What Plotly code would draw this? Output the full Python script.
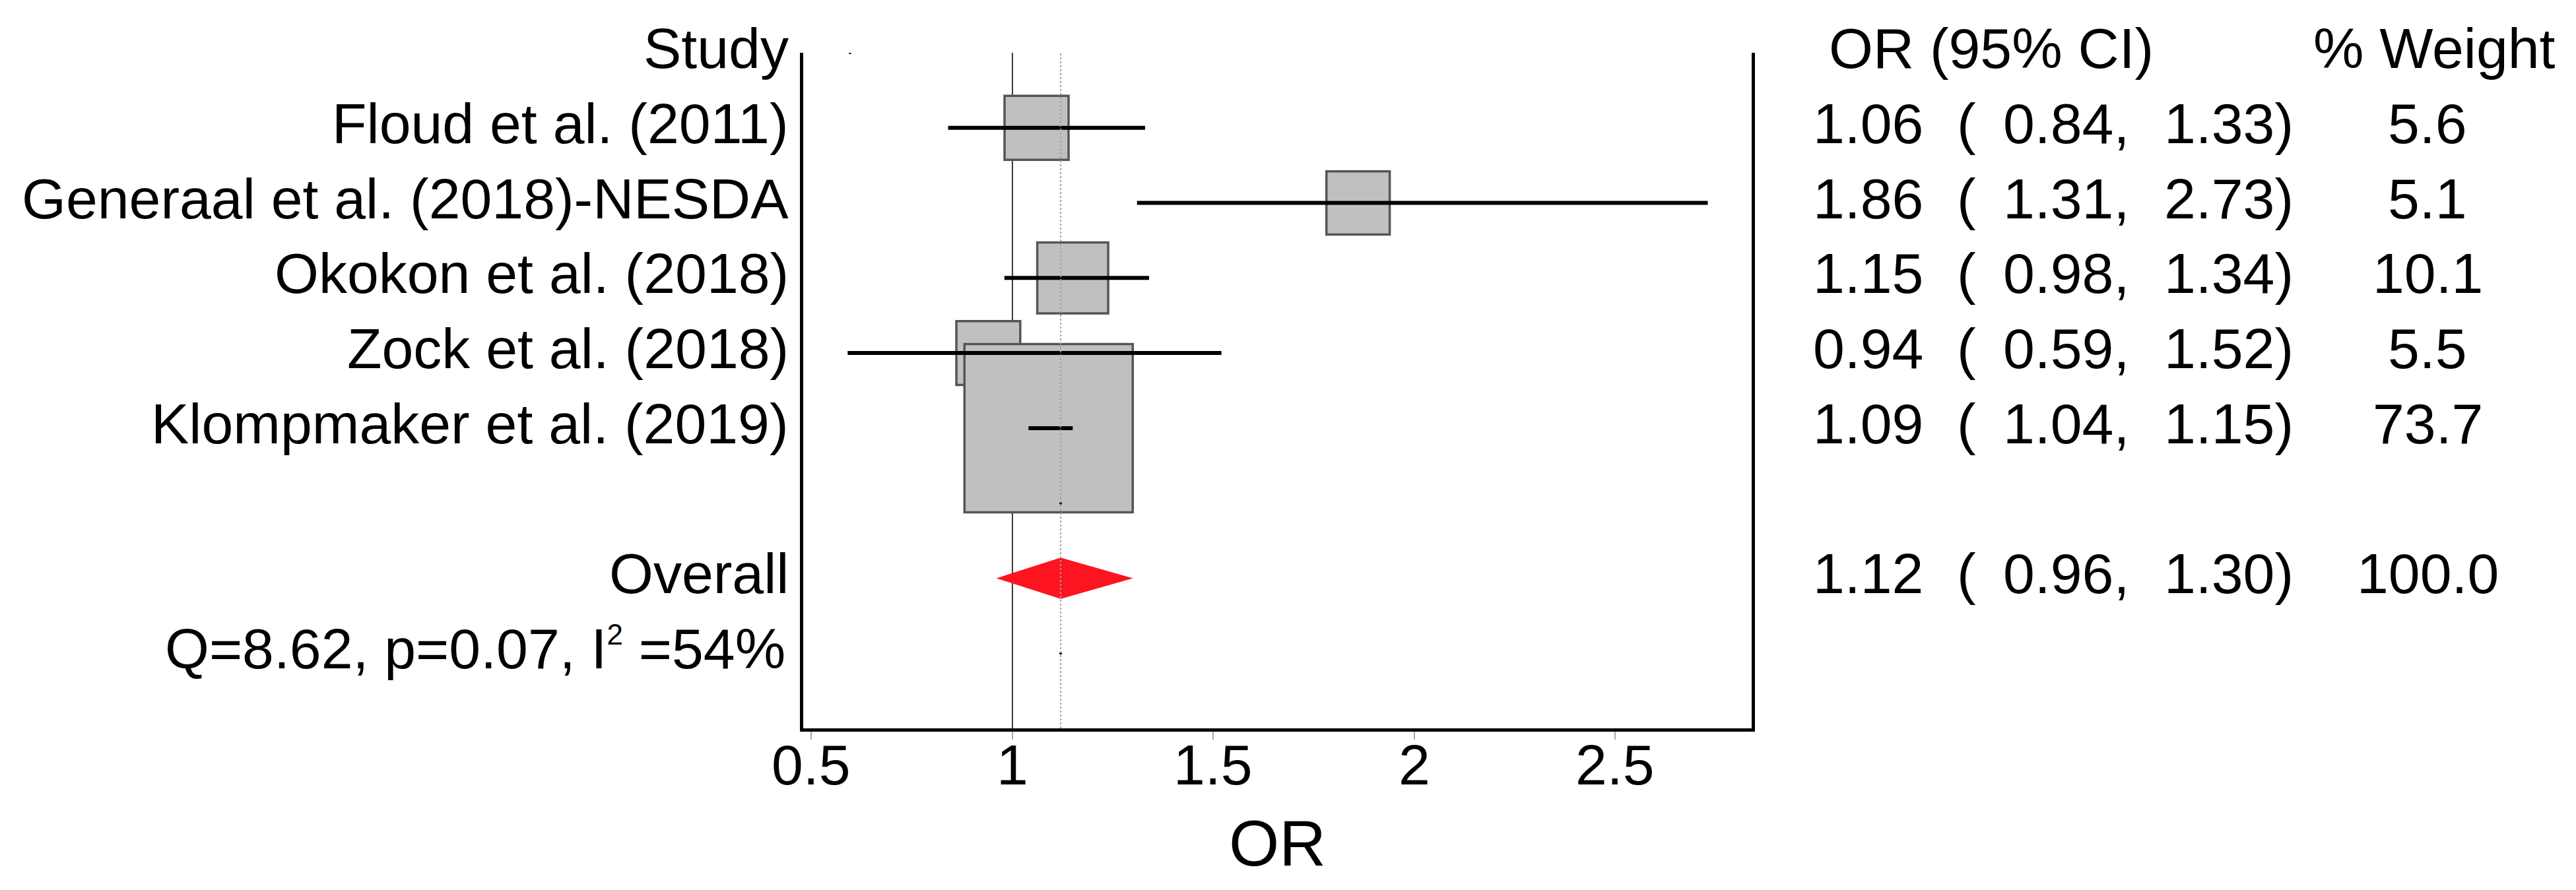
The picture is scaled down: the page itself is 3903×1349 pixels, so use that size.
import plotly.graph_objects as go

# Study-level results (odds ratios with 95% CI) and random-effects weights
STUDIES = [
    "Floud et al. (2011)",
    "Generaal et al. (2018)-NESDA",
    "Okokon et al. (2018)",
    "Zock et al. (2018)",
    "Klompmaker et al. (2019)",
]
OR_EST = [1.06, 1.86, 1.15, 0.94, 1.09]
CI_LOW = [0.84, 1.31, 0.98, 0.59, 1.04]
CI_HIGH = [1.33, 2.73, 1.34, 1.52, 1.15]
WEIGHTS = [5.6, 5.1, 10.1, 5.5, 73.7]

POOLED_LABEL = "Overall"
POOLED_OR = 1.12
POOLED_LOW = 0.96
POOLED_HIGH = 1.30
POOLED_WEIGHT = 100.0
HETEROGENEITY = "Q=8.62, p=0.07, I<sup><span style='font-size:44px'>2</span></sup> =54%"

X_TICKS = [0.5, 1, 1.5, 2, 2.5]
X_TICK_LABELS = ["0.5", "1", "1.5", "2", "2.5"]
X_TITLE = "OR"
NULL_OR = 1.0

# stray specks the original plotting program leaves behind (x, row)
STRAY_X = [0.596, 1.12, 1.12]
STRAY_ROW = [0, 6, 8]

FONT = "Arial, 'Liberation Sans', Helvetica, sans-serif"
INK = "black"
BOX_FILL = "#c0c0c0"
BOX_EDGE = "#555555"
DIAMOND = "#fe1420"

W, H = 3903, 1349
L, R, T, B = 1217, 1249, 80, 245
PAGE_PAD = 8          # browser body margin shifts the plot; compensate
PLOT_W = W - L - R
PLOT_H = H - T - B
TEXT_LIFT = 7

study_rows = list(range(1, len(STUDIES) + 1))
pooled_row = len(STUDIES) + 2
het_row = pooled_row + 1
n_rows = het_row + 1


def px(x):
    """Pixel column -> paper fraction of the plotting area."""
    return (x - L) / PLOT_W


def py(y):
    """Pixel row -> paper fraction of the plotting area."""
    return (T + PLOT_H - y) / PLOT_H


fig = go.Figure()

# weight boxes (drawn first so CI lines sit on top)
fig.add_trace(go.Scatter(
    x=OR_EST, y=study_rows, mode="markers",
    marker=dict(symbol="square", size=[84 + 2.32 * w for w in WEIGHTS], opacity=1,
                color=BOX_FILL, line=dict(color=BOX_EDGE, width=3.5)),
    hoverinfo="skip", showlegend=False,
))

# confidence intervals
ci_x, ci_y = [], []
for lo, hi, row in zip(CI_LOW, CI_HIGH, study_rows):
    ci_x += [lo, hi, None]
    ci_y += [row, row, None]
fig.add_trace(go.Scatter(
    x=ci_x, y=ci_y, mode="lines", line=dict(color=INK, width=6),
    hoverinfo="skip", showlegend=False,
))

# pooled diamond
half = 0.275
fig.add_trace(go.Scatter(
    x=[POOLED_LOW, POOLED_OR, POOLED_HIGH, POOLED_OR, POOLED_LOW],
    y=[pooled_row, pooled_row - half, pooled_row, pooled_row + half, pooled_row],
    mode="lines", fill="toself", fillcolor=DIAMOND, line=dict(width=0, color=DIAMOND),
    hoverinfo="skip", showlegend=False,
))

fig.add_trace(go.Scatter(
    x=STRAY_X, y=STRAY_ROW, mode="markers",
    marker=dict(size=4, color=INK), hoverinfo="skip", showlegend=False,
))

# null line behind the boxes, pooled estimate dotted line on top
fig.add_shape(type="line", xref="x", yref="y domain", x0=NULL_OR, x1=NULL_OR,
              y0=0, y1=1, line=dict(color="#3a3a3a", width=2), layer="below")
fig.add_shape(type="line", xref="x", yref="y domain", x0=POOLED_OR, x1=POOLED_OR,
              y0=0, y1=1, line=dict(color="#a0a0a0", width=2, dash="dot"), layer="above")


def label(text, x, row, anchor, size=86):
    fig.add_annotation(text=text, xref="paper", yref="y", x=px(x), y=row,
                       xanchor=anchor, yanchor="middle", yshift=TEXT_LIFT, showarrow=False,
                       font=dict(family=FONT, size=size, color=INK))


label("Study", 1197, 0, "right")
label("OR (95% CI)", 2769, 0, "left")
label("% Weight", 3688, 0, "center")

for name, est, lo, hi, w, row in zip(STUDIES, OR_EST, CI_LOW, CI_HIGH, WEIGHTS, study_rows):
    label(name, 1197, row, "right")
    label(f"{est:.2f}", 2745, row, "left")
    label("(", 2963, row, "left")
    label(f"{lo:.2f},", 3228, row, "right")
    label(f"{hi:.2f})", 3477, row, "right")
    label(f"{w:.1f}", 3678, row, "center")

label(POOLED_LABEL, 1197, pooled_row, "right")
label(f"{POOLED_OR:.2f}", 2745, pooled_row, "left")
label("(", 2963, pooled_row, "left")
label(f"{POOLED_LOW:.2f},", 3228, pooled_row, "right")
label(f"{POOLED_HIGH:.2f})", 3477, pooled_row, "right")
label(f"{POOLED_WEIGHT:.1f}", 3678, pooled_row, "center")
label(HETEROGENEITY, 1192, het_row, "right")

# x tick labels and axis title placed as annotations for exact spacing
for val, txt in zip(X_TICKS, X_TICK_LABELS):
    fig.add_annotation(text=txt, xref="x", yref="paper", x=val, y=py(1166),
                       xanchor="center", yanchor="middle", yshift=TEXT_LIFT, showarrow=False,
                       font=dict(family=FONT, size=86, color=INK))
fig.add_annotation(text=X_TITLE, xref="paper", yref="paper", x=0.5, y=py(1285),
                   xanchor="center", yanchor="middle", yshift=TEXT_LIFT, showarrow=False,
                   font=dict(family=FONT, size=98, color=INK))

fig.update_layout(
    width=W, height=H,
    margin=dict(l=L - PAGE_PAD, r=R + PAGE_PAD, t=T - PAGE_PAD, b=B + PAGE_PAD),
    paper_bgcolor="white", plot_bgcolor="white",
    font=dict(family=FONT, color=INK),
    xaxis=dict(
        range=[0.4795, 2.8392], tickvals=X_TICKS, showticklabels=False,
        showgrid=False, zeroline=False,
        showline=True, linecolor=INK, linewidth=5,
        ticks="outside", ticklen=12, tickwidth=2, tickcolor="#a8a8a8",
    ),
    yaxis=dict(
        range=[n_rows, 0], showticklabels=False, showgrid=False, zeroline=False,
        showline=True, mirror=True, linecolor=INK, linewidth=5, ticks="",
    ),
)

fig.write_html("out.html")
